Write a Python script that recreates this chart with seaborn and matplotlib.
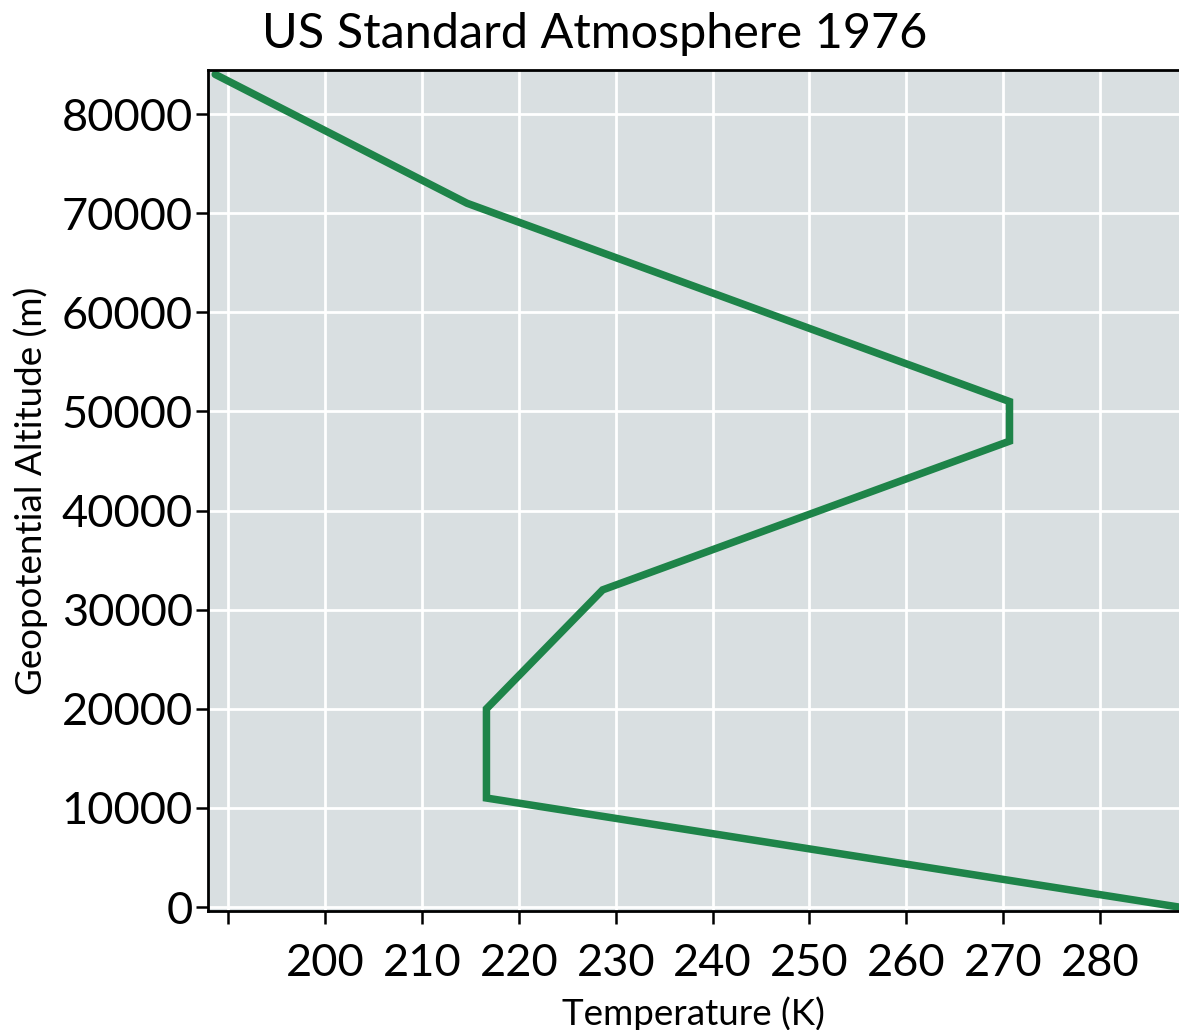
import matplotlib
matplotlib.use("Agg")
import matplotlib.pyplot as plt
import seaborn as sns
import pandas as pd

# US Standard Atmosphere 1976 layer breakpoints
altitude_m = [0, 11000, 20000, 32000, 47000, 51000, 71000, 84000]
temperature_k = [288.15, 216.65, 216.65, 228.65, 270.65, 270.65, 214.65, 188.65]
x_ticks = [190, 200, 210, 220, 230, 240, 250, 260, 270, 280]
x_tick_labels = ["", "200", "210", "220", "230", "240", "250", "260", "270", "280"]
y_ticks = [0, 10000, 20000, 30000, 40000, 50000, 60000, 70000, 80000]

sns.set_theme(style="darkgrid")
plt.rcParams["font.family"] = ["Lato", "DejaVu Sans"]

df = pd.DataFrame({"Temperature (K)": temperature_k, "Altitude": altitude_m})

fig = plt.figure(figsize=(11.79, 10.30), dpi=100)
ax = fig.add_axes([0.1764, 0.1155, 0.8236, 0.8165])
ax.set_facecolor("#d9dfe1")

sns.lineplot(data=df, x="Temperature (K)", y="Altitude", sort=False,
             estimator=None, color="#1e8449", linewidth=5.4, ax=ax,
             solid_joinstyle="miter")

ax.set_xlim(187.9, 288.15)
ax.set_ylim(-400, 84440)
ax.set_xticks(x_ticks)
ax.set_xticklabels(x_tick_labels)
ax.set_yticks(y_ticks)

ax.grid(True, color="white", linewidth=2)
for side in ["left", "top", "bottom"]:
    ax.spines[side].set_visible(True)
    ax.spines[side].set_color("black")
    ax.spines[side].set_linewidth(2)
ax.spines["right"].set_visible(False)

ax.tick_params(axis="both", which="both", direction="out", length=9, width=1.8,
               color="black", labelsize=32.5, labelcolor="black",
               bottom=True, left=True)
ax.tick_params(axis="x", pad=14)
ax.tick_params(axis="y", pad=2)

ax.set_xlabel("Temperature (K)", fontsize=26.5, color="black", labelpad=9)
ax.set_ylabel("Geopotential Altitude (m)", fontsize=26.5, color="black", labelpad=10)
fig.text(0.504, 0.967, "US Standard Atmosphere 1976", ha="center", va="center",
         fontsize=35, color="black")

fig.savefig("out.png", dpi=100)
